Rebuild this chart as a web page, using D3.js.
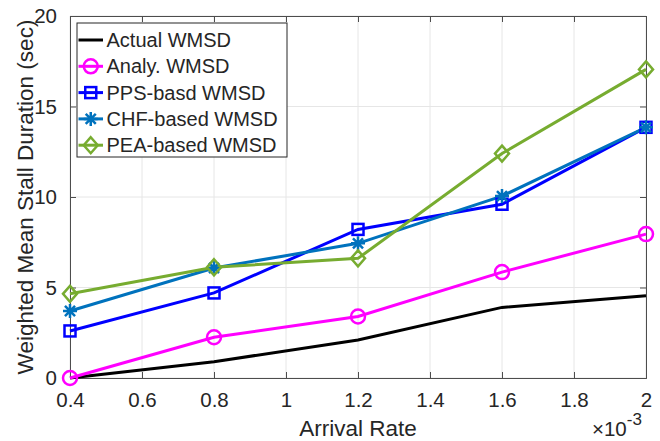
<!DOCTYPE html>
<html lang="en">
<head>
    <meta charset="UTF-8">
    <title>Weighted Mean Stall Duration</title>
    <script src="https://cdn.jsdelivr.net/npm/d3@7"></script>
    <style>
        body{ margin: 0; background-color: #fff; }
        svg text{ font-family: "Liberation Sans", Arial, sans-serif; fill: #262626; }
    </style>
</head>
<body>
<script>

    // Chart data (arrival rate in units of 1e-3)
    const arrivalRates = [0.4, 0.8, 1.2, 1.6, 2.0];
    const actualWMSD   = [0.0, 0.9, 2.1, 3.9, 4.55];
    const analyWMSD    = [0.0, 2.25, 3.4, 5.85, 7.95];
    const ppsWMSD      = [2.6, 4.7, 8.21, 9.6, 13.85];
    const chfWMSD      = [3.7, 6.08, 7.44, 10.05, 13.85];
    const peaWMSD      = [4.65, 6.12, 6.61, 12.4, 17.05];
    const xTicks = [0.4, 0.6, 0.8, 1, 1.2, 1.4, 1.6, 1.8, 2];
    const yTicks = [0, 5, 10, 15, 20];

    const series = [
        {name: "Actual WMSD",      values: actualWMSD, color: "#000000", marker: "none"},
        {name: "Analy. WMSD",      values: analyWMSD,  color: "#FF00FF", marker: "circle"},
        {name: "PPS-basd WMSD",    values: ppsWMSD,    color: "#0000FF", marker: "square"},
        {name: "CHF-based WMSD",   values: chfWMSD,    color: "#0072BD", marker: "star"},
        {name: "PEA-based WMSD",   values: peaWMSD,    color: "#77AC30", marker: "diamond"}
    ];

    const width = 660, height = 441;
    const margin = {top: 16, right: 14, bottom: 63, left: 70};
    const innerW = width - margin.left - margin.right;
    const innerH = height - margin.top - margin.bottom;

    const svg = d3.select("body").append("svg")
        .attr("width", width)
        .attr("height", height);

    const g = svg.append("g")
        .attr("transform", `translate(${margin.left},${margin.top})`);

    const x = d3.scaleLinear().domain([0.4, 2]).range([0, innerW]);
    const y = d3.scaleLinear().domain([0, 20]).range([innerH, 0]);

    // grid
    g.append("g").selectAll("line").data(xTicks).enter().append("line")
        .attr("x1", d => x(d)).attr("x2", d => x(d))
        .attr("y1", 0).attr("y2", innerH)
        .attr("stroke", "#e6e6e6").attr("stroke-width", 1);
    g.append("g").selectAll("line").data(yTicks).enter().append("line")
        .attr("x1", 0).attr("x2", innerW)
        .attr("y1", d => y(d)).attr("y2", d => y(d))
        .attr("stroke", "#e6e6e6").attr("stroke-width", 1);

    // axes (ticks pointing inward, like matlab)
    const xAxis = g.append("g")
        .attr("transform", `translate(0,${innerH})`)
        .call(d3.axisBottom(x).tickValues(xTicks).tickSize(-6).tickPadding(0)
            .tickFormat(d => d3.format("")(+d.toFixed(1))));
    const xTop = g.append("g")
        .call(d3.axisTop(x).tickValues(xTicks).tickSize(-6).tickFormat(""));
    const yAxis = g.append("g")
        .call(d3.axisLeft(y).tickValues(yTicks).tickSize(-6).tickPadding(13));
    const yRight = g.append("g")
        .attr("transform", `translate(${innerW},0)`)
        .call(d3.axisRight(y).tickValues(yTicks).tickSize(-6).tickFormat(""));

    [xAxis, xTop, yAxis, yRight].forEach(a => {
        a.selectAll("path, line").attr("stroke", "#4d4d4d");
        a.selectAll("text").style("font-size", "20.5px").attr("fill", "#262626");
    });
    xAxis.selectAll("text").attr("y", 29).attr("dy", null);

    // lines
    const line = d3.line()
        .x((d, i) => x(arrivalRates[i]))
        .y(d => y(d));

    series.forEach(s => {
        g.append("path")
            .datum(s.values)
            .attr("fill", "none")
            .attr("stroke", s.color)
            .attr("stroke-width", 3)
            .attr("d", line);
    });

    function drawMarker(sel, type, color, cx, cy) {
        if (type === "circle") {
            sel.append("circle").attr("cx", cx).attr("cy", cy).attr("r", 7)
                .attr("fill", "none").attr("stroke", color).attr("stroke-width", 2.5);
        } else if (type === "square") {
            sel.append("rect").attr("x", cx - 5.5).attr("y", cy - 5.5)
                .attr("width", 11).attr("height", 11)
                .attr("fill", "none").attr("stroke", color).attr("stroke-width", 2.5);
        } else if (type === "diamond") {
            sel.append("path")
                .attr("d", `M${cx},${cy - 8}L${cx + 7},${cy}L${cx},${cy + 8}L${cx - 7},${cy}Z`)
                .attr("fill", "none").attr("stroke", color).attr("stroke-width", 2.5);
        } else if (type === "star") {
            const r = 7;
            let d = `M${cx - r},${cy}L${cx + r},${cy}M${cx},${cy - r}L${cx},${cy + r}`;
            const k = r * 0.72;
            d += `M${cx - k},${cy - k}L${cx + k},${cy + k}M${cx - k},${cy + k}L${cx + k},${cy - k}`;
            sel.append("path").attr("d", d)
                .attr("stroke", color).attr("stroke-width", 2.5);
        }
    }

    series.forEach(s => {
        if (s.marker === "none") return;
        const mg = g.append("g");
        s.values.forEach((v, i) => drawMarker(mg, s.marker, s.color, x(arrivalRates[i]), y(v)));
    });

    // axis labels
    svg.append("text")
        .attr("x", margin.left + innerW / 2)
        .attr("y", 436)
        .attr("text-anchor", "middle")
        .style("font-size", "22.5px")
        .text("Arrival Rate");

    svg.append("text")
        .attr("transform", `translate(33,${margin.top + innerH / 2}) rotate(-90)`)
        .attr("text-anchor", "middle")
        .style("font-size", "22.5px")
        .text("Weighted Mean Stall Duration (sec)");

    const expo = svg.append("text")
        .attr("x", 592)
        .attr("y", 436)
        .style("font-size", "20.5px");
    expo.append("tspan").text("\u00d710");
    expo.append("tspan").attr("dy", -11).style("font-size", "17px").text("-3");

    // legend
    const legend = svg.append("g").attr("transform", "translate(77,23)");
    legend.append("rect")
        .attr("width", 210).attr("height", 134)
        .attr("fill", "#fff").attr("stroke", "#262626").attr("stroke-width", 1);

    series.forEach((s, i) => {
        const yy = 17 + i * 26.3;
        legend.append("line")
            .attr("x1", 1.5).attr("x2", 26).attr("y1", yy).attr("y2", yy)
            .attr("stroke", s.color).attr("stroke-width", 3);
        drawMarker(legend, s.marker, s.color, 13.75, yy);
        legend.append("text")
            .attr("x", 29.5).attr("y", yy)
            .attr("dy", "0.35em")
            .style("font-size", "20px")
            .attr("fill", "#000")
            .text(s.name);
    });
</script>
</body>
</html>
